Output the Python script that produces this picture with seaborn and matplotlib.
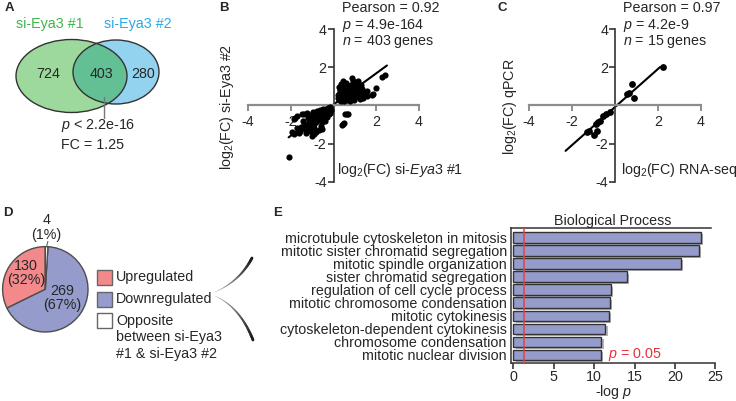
import numpy as np
import matplotlib
matplotlib.use("Agg")
import matplotlib.pyplot as plt
import matplotlib.patheffects as pe
from matplotlib.patches import Ellipse, Rectangle
from matplotlib.collections import LineCollection
import seaborn as sns

# ---- data ----
# A: overlap of genes changed by the two siRNAs
venn_counts = [724, 403, 280]          # only #1, both, only #2
venn_names = ["si-Eya3 #1", "si-Eya3 #2"]
venn_stats = ["$p$ < 2.2e-16", "FC = 1.25"]

# B: log2FC si-Eya3 #1 vs #2 (points read approximately, overlapping dots merged)
b_points = [
    # upregulated cluster
    (0.25, 0.30), (0.30, 0.45), (0.35, 0.25), (0.40, 0.60), (0.45, 0.35), (0.50, 0.50), (0.55, 0.70),
    (0.60, 0.40), (0.65, 0.55), (0.70, 0.80), (0.75, 0.45), (0.80, 0.65), (0.85, 0.35), (0.90, 0.55),
    (0.95, 0.75), (1.00, 0.45), (1.05, 0.60), (1.10, 0.85), (1.15, 0.50), (1.20, 0.70), (1.30, 0.55),
    (0.30, 0.75), (0.40, 0.90), (0.50, 1.05), (0.60, 1.20), (0.55, 0.95), (0.70, 1.00), (0.80, 1.10),
    (0.85, 1.45), (0.90, 1.30), (1.00, 1.00), (1.10, 1.25), (1.20, 1.00), (1.35, 0.85), (1.45, 0.65),
    (1.55, 0.50), (0.35, 1.15), (0.45, 1.30), (0.25, 0.95), (0.20, 0.55), (0.65, 0.30), (0.75, 0.25),
    (0.95, 0.30), (1.25, 0.35), (1.40, 0.40), (0.60, 0.65), (0.70, 0.60), (0.45, 0.75), (0.85, 0.85),
    (1.05, 0.95), (1.55, 0.75), (1.85, 0.62), (1.78, 0.55), (2.00, 0.92), (2.25, 1.48), (2.40, 1.60),
    (1.16, 1.30), (1.30, 1.10), (0.50, 0.22), (0.35, 0.50), (0.22, 0.40), (0.28, 0.62), (0.38, 0.38),
    (0.42, 0.48), (0.32, 0.85),
    # opposite direction
    (0.47, -0.90), (0.39, -1.00), (0.44, -0.95), (0.54, -0.43), (0.70, -0.42), (0.62, -0.46),
    # downregulated cluster
    (-0.15, -0.10), (-0.20, -0.25), (-0.25, -0.15), (-0.30, -0.35), (-0.35, -0.20), (-0.40, -0.45),
    (-0.45, -0.30), (-0.50, -0.55), (-0.55, -0.40), (-0.60, -0.65), (-0.65, -0.45), (-0.70, -0.75),
    (-0.75, -0.55), (-0.80, -0.85), (-0.85, -0.60), (-0.90, -0.95), (-0.95, -0.70), (-1.00, -1.05),
    (-1.05, -0.80), (-1.10, -1.10), (-1.15, -0.90), (-1.20, -1.20), (-1.25, -0.95), (-1.30, -1.05),
    (-1.35, -1.25), (-1.40, -1.00), (-1.50, -1.15), (-1.55, -1.34), (-1.63, -1.43), (-1.70, -1.20),
    (-1.45, -0.80), (-1.40, -0.47), (-1.78, -0.64), (-1.70, -0.56), (-0.93, -1.51), (-1.00, -1.60),
    (-0.54, -1.25), (-0.70, -1.30), (-0.80, -1.40), (-0.60, -1.05), (-0.40, -0.80), (-0.30, -0.60),
    (-0.20, -0.45), (-0.50, -0.20), (-0.65, -0.25), (-0.85, -0.40), (-1.05, -0.50), (-1.20, -0.65),
    (-0.95, -0.35), (-0.75, -0.30), (-0.45, -0.65), (-0.55, -0.85), (-0.35, -0.55), (-0.25, -0.40),
    (-0.10, -0.25), (-0.15, -0.40), (-1.10, -1.35), (-1.30, -1.45), (-0.90, -1.20), (-2.10, -2.68),
    (-1.95, -1.40), (-1.85, -1.50), (-1.25, -0.40), (-1.86, -0.73), (-1.47, -0.47),
]
b_fit = (0.82, 0.05)                   # slope, intercept of drawn line
b_fit_range = (-2.1, 2.5)
b_stats = ["Pearson = 0.92", "$p$ = 4.9e-164", "$n$ = 403 genes"]

# C: RNA-seq vs qPCR
c_x = [2.25, 0.80, 0.58, 0.66, 0.89, -0.23, -0.42, -0.54, -0.69, -0.77, -0.88, -0.82, -0.97, -1.23, -1.30]
c_y = [2.00, 1.14, 0.61, 0.67, 0.39, -0.35, -0.44, -0.53, -0.79, -0.88, -0.96, -1.32, -1.54, -1.32, -1.40]
c_fit = (1.0, -0.08)
c_fit_range = (-2.3, 2.1)
c_stats = ["Pearson = 0.97", "$p$ = 4.2e-9", "$n$ = 15 genes"]

# D: direction of change of the 403 shared genes
pie_counts = [130, 269, 4]
pie_names = ["Upregulated", "Downregulated", "Opposite\nbetween si-Eya3\n#1 & si-Eya3 #2"]
pie_colors = ["#f4898c", "#959ccb", "#ffffff"]

# E: GO biological process enrichment
go_terms = ["microtubule cytoskeleton in mitosis", "mitotic sister chromatid segregation",
            "mitotic spindle organization", "sister chromatid segregation",
            "regulation of cell cycle process", "mitotic chromosome condensation",
            "mitotic cytokinesis", "cytoskeleton-dependent cytokinesis",
            "chromosome condensation", "mitotic nuclear division"]
go_neglogp = [23.2, 23.0, 20.7, 14.1, 12.1, 11.9, 11.8, 11.4, 10.9, 10.8]
p_cut = 0.05

# ---- style ----
sns.set_theme(style="ticks")
plt.rcParams["font.family"] = ["Liberation Sans", "DejaVu Sans"]
plt.rcParams["mathtext.fontset"] = "custom"
plt.rcParams["mathtext.rm"] = "Liberation Sans"
plt.rcParams["mathtext.it"] = "Liberation Sans:italic"
plt.rcParams["mathtext.bf"] = "Liberation Sans:bold"
plt.rcParams["axes.unicode_minus"] = False
FS = 10.3
W, H = 736, 401

fig = plt.figure(figsize=(W / 100, H / 100), dpi=100)

# overlay axes in pixel units for the venn, legend, letters and connectors
ov = fig.add_axes([0, 0, 1, 1])
ov.set_xlim(0, W)
ov.set_ylim(H, 0)
ov.axis("off")

for letter, (lx, ly) in zip("ABCDE", [(9, 8), (224, 8), (502, 8), (8, 213), (278, 213)]):
    ov.text(lx, ly, letter, fontsize=9.5, fontweight="bold", ha="center", va="center")

# ---- A: venn ----
g = Ellipse((71.5, 76), 111, 73, fc="#9dd99d", ec="none")
bl = Ellipse((116, 72), 86, 64, fc="#94d3f0", ec="none")
ov.add_patch(bl)
ov.add_patch(g)
inter = Ellipse((116, 72), 86, 64, fc="#63c095", ec="none")
ov.add_patch(inter)
inter.set_clip_path(g)
for e in [Ellipse((71.5, 76), 111, 73), Ellipse((116, 72), 86, 64)]:
    e.set_facecolor("none")
    e.set_edgecolor("#333333")
    e.set_linewidth(1)
    ov.add_patch(e)
for val, cx in zip(venn_counts, [48.3, 101.3, 143.3]):
    ov.text(cx, 74, str(val), fontsize=FS, ha="center", va="center")
ov.text(15.5, 24, venn_names[0], color="#3db54a", fontsize=FS, ha="left", va="center")
ov.text(104, 24, venn_names[1], color="#29aae1", fontsize=FS, ha="left", va="center")
ov.plot([104, 104], [97, 118], color="#777777", lw=1)
ov.text(61, 126, venn_stats[0], fontsize=FS, ha="left", va="center")
ov.text(61, 145, venn_stats[1], fontsize=FS, ha="left", va="center")


# ---- B and C: scatter plots with crossing axes ----
def cross_axes(ax):
    ax.set_xlim(-4, 4)
    ax.set_ylim(-4, 4)
    for s in ["top", "right"]:
        ax.spines[s].set_visible(False)
    ax.spines["left"].set_position(("data", 0))
    ax.spines["bottom"].set_position(("data", 0))
    ax.spines["bottom"].set_color("#8c8c8c")
    ax.spines["bottom"].set_linewidth(1.6)
    ax.spines["left"].set_color("#333333")
    ax.spines["left"].set_linewidth(1.2)
    ax.set_xticks([-4, -2, 2, 4])
    ax.set_yticks([-4, -2, 2, 4])
    ax.tick_params(axis="x", direction="out", length=4, width=1.4, color="#8c8c8c",
                   labelsize=FS, pad=3)
    ax.tick_params(axis="y", direction="out", length=4, width=1.2, color="#333333",
                   labelsize=FS, pad=1)
    ax.patch.set_visible(False)


bx = [p[0] for p in b_points]
by = [p[1] for p in b_points]

axB = fig.add_axes([248 / W, 1 - 181.7 / H, 171 / W, 152.4 / H])
cross_axes(axB)
sns.scatterplot(x=bx, y=by, color="black", s=20, linewidth=0, ax=axB, zorder=3)
xs = np.array(b_fit_range)
axB.plot(xs, b_fit[0] * xs + b_fit[1], color="black", lw=1.5, zorder=2)
axB.text(-0.123, 0.49, "log$_2$(FC) si-Eya3 #2", rotation=90, fontsize=FS,
         transform=axB.transAxes, ha="center", va="center")
axB.text(0.522, 0.077, "log$_2$(FC) si-$\\mathit{Eya3}$ #1", fontsize=FS,
         transform=axB.transAxes, ha="left", va="center")
for i, t in enumerate(b_stats):
    ov.text(341.7, 8.3 + 16.7 * i, t, fontsize=FS, ha="left", va="center")

axC = fig.add_axes([529 / W, 1 - 181.7 / H, 172 / W, 152.4 / H])
cross_axes(axC)
sns.scatterplot(x=c_x, y=c_y, color="black", s=24, linewidth=0, ax=axC, zorder=3)
xs = np.array(c_fit_range)
axC.plot(xs, c_fit[0] * xs + c_fit[1], color="black", lw=1.5, zorder=2)
axC.text(-0.11, 0.49, "log$_2$(FC) qPCR", rotation=90, fontsize=FS,
         transform=axC.transAxes, ha="center", va="center")
axC.text(0.533, 0.077, "log$_2$(FC) RNA-seq", fontsize=FS,
         transform=axC.transAxes, ha="left", va="center")
for i, t in enumerate(c_stats):
    ov.text(622.7, 8.3 + 16.7 * i, t, fontsize=FS, ha="left", va="center")

# ---- D: pie ----
axD = fig.add_axes([2.6 / W, 1 - 332 / H, 85.4 / W, 85.4 / H])
axD.pie(pie_counts, colors=pie_colors, startangle=90, counterclock=True,
        wedgeprops=dict(edgecolor="#4d4d4d", linewidth=1))
axD.set_xlim(-1, 1)
axD.set_ylim(-1, 1)
total = sum(pie_counts)
pie_text_pos = [(-0.45, 0.38), (0.39, -0.20), (0.03, 1.45)]
for n, (tx, ty) in zip(pie_counts, pie_text_pos):
    axD.text(tx, ty, f"{n}\n({round(100 * n / total)}%)", fontsize=FS, ha="center",
             va="center", linespacing=1.05)
axD.plot([0.03, 0.06], [1.0, 1.12], color="#666666", lw=0.8, clip_on=False)

for i, (name, col) in enumerate(zip(pie_names, pie_colors)):
    cy = [277.5, 299, 320.5][i]
    ov.add_patch(Rectangle((96.7, cy - 7.5), 15, 15, fc=col, ec="#666666", lw=1))
    ov.text(116, cy, name.split("\n")[0], fontsize=FS, ha="left", va="center")
    for j, extra in enumerate(name.split("\n")[1:]):
        ov.text(116, cy + 16.7 * (j + 1), extra, fontsize=FS, ha="left", va="center")


# connector curves from the legend to panel E
def bezier(p0, p1, p2, n=40):
    t = np.linspace(0, 1, n)[:, None]
    return (1 - t) ** 2 * np.array(p0) + 2 * (1 - t) * t * np.array(p1) + t ** 2 * np.array(p2)


for p0, p1, p2 in [((215, 292), (240, 281), (252, 258)), ((215, 296), (240, 307), (253, 340))]:
    pts = bezier(p0, p1, p2)
    segs = np.stack([pts[:-1], pts[1:]], axis=1)
    shade = np.linspace(0.75, 0.1, len(segs))
    lc = LineCollection(segs, linewidths=np.linspace(0.3, 2.0, len(segs)),
                        colors=[(s, s, s) for s in shade], capstyle="round")
    ov.add_collection(lc)

# ---- E: GO bars ----
axE = fig.add_axes([511 / W, 1 - 363.3 / H, 204.3 / W, 135 / H])
sns.barplot(x=go_neglogp, y=go_terms, orient="h", color="#959bcb", saturation=1,
            edgecolor="#333333", linewidth=1, width=0.82, ax=axE)
for p in axE.patches:
    p.set_path_effects([pe.SimplePatchShadow(offset=(1.5, -1.5), shadow_rgbFace="#b5b5b5", alpha=1),
                        pe.Normal()])
axE.set_xlim(-0.3, 25)
axE.set_ylim(9.64, -0.72)
axE.set_xticks([0, 5, 10, 15, 20, 25])
axE.spines["right"].set_visible(False)
for s in ["left", "bottom", "top"]:
    axE.spines[s].set_color("#333333")
    axE.spines[s].set_linewidth(1.1)
axE.spines["top"].set_bounds(-0.3, 24.5)
axE.tick_params(axis="y", length=0, pad=3, labelsize=FS)
axE.tick_params(axis="x", direction="out", length=4, width=1.1, labelsize=FS, pad=1)
axE.set_xlabel("-log $p$", fontsize=FS, labelpad=-1)
axE.set_ylabel("")
axE.set_title("Biological Process", fontsize=FS, pad=2)
cut = -np.log10(p_cut)
axE.axvline(cut, color="#e8403f", lw=1.1, zorder=3)
axE.text(11.76, 9, f"$p$ = {p_cut}", color="#e8303a", fontsize=FS, ha="left", va="center")

fig.savefig("out.png", dpi=100)
